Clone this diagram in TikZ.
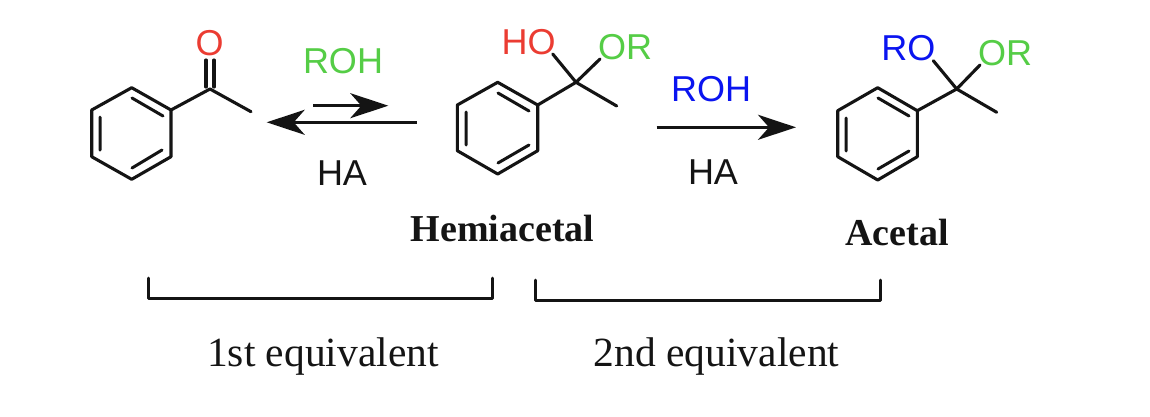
\documentclass[tikz,border=0pt]{standalone}
\usepackage{fontspec}
\setmainfont{Liberation Serif}
\newfontfamily\chemfont{Liberation Sans}
\usetikzlibrary{arrows.meta}
\definecolor{chemred}{RGB}{235,60,50}
\definecolor{chemgreen}{RGB}{85,205,70}
\definecolor{chemblue}{RGB}{10,20,240}
\definecolor{ink}{RGB}{20,20,20}
\tikzset{
  bond/.style={draw=ink,line width=3.1pt,line cap=round,line join=round},
  innerbond/.style={draw=ink,line width=3pt,line cap=round},
  rxn/.style={draw=ink,line width=3pt,-{Stealth[length=38pt,width=25pt,inset=11pt]}},
  bracket/.style={draw=ink,line width=3pt,line cap=round,line join=round},
  chem/.style={font=\chemfont\fontsize{36}{36}\selectfont,inner sep=0pt,text=ink},
  captext/.style={font=\fontsize{41.5}{41.5}\selectfont,inner sep=0pt,text=ink,anchor=base},
  capbold/.style={font=\fontsize{38}{38}\selectfont\bfseries,inner sep=0pt,text=ink,anchor=base}
}
\begin{document}
\begin{tikzpicture}[x=1pt,y=-1pt]
\useasboundingbox (0,0) rectangle (1150,416);
\fill[white] (0,0) rectangle (1150,416);

% Ketone
\coordinate (a1) at (131.7,87.7);
\coordinate (a2) at (171,110);
\coordinate (a3) at (171,156.7);
\coordinate (a4) at (131.7,179.3);
\coordinate (a5) at (91.7,156.7);
\coordinate (a6) at (91.7,110);
\coordinate (ac) at (210,89);
\coordinate (ame) at (251,111.7);
\coordinate (ao1) at (206,60);
\coordinate (ao2) at (214,60);
\coordinate (ac1) at (206,87);
\coordinate (ac2) at (214,87);
\draw[bond] (a1)--(a2)--(a3)--(a4)--(a5)--(a6)--cycle;
\draw[bond] (a2)--(ac)--(ame);
\draw[bond] (ao1)--(ac1) (ao2)--(ac2);
\draw[innerbond] (132,98)--(163,116) (162,150)--(132,168) (100,150)--(100,117);
\node[chem,text=chemred] (ao) at (209.5,43) {O};

% Hemiacetal
\coordinate (b1) at (497.7,82.3);
\coordinate (b2) at (537.7,105);
\coordinate (b3) at (537.7,150.7);
\coordinate (b4) at (497.7,174);
\coordinate (b5) at (457.3,150.7);
\coordinate (b6) at (457.3,105);
\coordinate (bc) at (576,82.3);
\coordinate (bme) at (616.7,106);
\coordinate (bho) at (552.7,54);
\coordinate (bor) at (600,59);
\draw[bond] (b1)--(b2)--(b3)--(b4)--(b5)--(b6)--cycle;
\draw[bond] (b2)--(bc)--(bme);
\draw[bond] (bc)--(bho) (bc)--(bor);
\draw[innerbond] (498,93)--(529,111) (529,145)--(498,163) (466,145)--(466,112);
\node[chem,text=chemred] (tho) at (528.7,41.7) {HO};
\node[chem,text=chemgreen] (tor) at (625,46.7) {OR};

% Acetal
\coordinate (c1) at (877.7,87.7);
\coordinate (c2) at (917.3,110.7);
\coordinate (c3) at (917.3,156.7);
\coordinate (c4) at (877.7,180);
\coordinate (c5) at (837.7,156.7);
\coordinate (c6) at (837.7,110.7);
\coordinate (cc) at (956.7,89);
\coordinate (cme) at (996.7,112.3);
\coordinate (cro) at (933.3,60.7);
\coordinate (cor) at (980,65);
\draw[bond] (c1)--(c2)--(c3)--(c4)--(c5)--(c6)--cycle;
\draw[bond] (c2)--(cc)--(cme);
\draw[bond] (cc)--(cro) (cc)--(cor);
\draw[innerbond] (878,98)--(909,116) (909,151)--(878,169) (846,151)--(846,118);
\node[chem,text=chemblue] (tro) at (908.3,48.3) {RO};
\node[chem,text=chemgreen] (tor2) at (1005,53.3) {OR};

% Arrows
\coordinate (r1s) at (313,105.7);
\coordinate (r1e) at (388.3,105.7);
\coordinate (r2s) at (416.7,122.3);
\coordinate (r2e) at (266.7,122.3);
\coordinate (r3s) at (656.7,127.3);
\coordinate (r3e) at (796,127.3);
\draw[rxn] (r1s)--(r1e);
\draw[rxn] (r2s)--(r2e);
\draw[rxn] (r3s)--(r3e);
\node[chem,text=chemgreen] (rohg) at (343,61) {ROH};
\node[chem] (ha1) at (342,173) {HA};
\node[chem,text=chemblue] (rohb) at (711,89) {ROH};
\node[chem] (ha2) at (713,172) {HA};

% Captions
\node[capbold] (hemi) at (502.5,241.7) {Hemiacetal};
\node[capbold] (acet) at (897,245) {Acetal};
\coordinate (k1) at (148,278);
\coordinate (k2) at (148,298);
\coordinate (k3) at (492,298);
\coordinate (k4) at (492,278);
\coordinate (m1) at (535,280);
\coordinate (m2) at (535,300);
\coordinate (m3) at (880,300);
\coordinate (m4) at (880,280);
\draw[bracket] (k1)--(k2)--(k3)--(k4);
\draw[bracket] (m1)--(m2)--(m3)--(m4);
\node[captext] (eq1) at (323,366) {1st equivalent};
\node[captext] (eq2) at (716.5,366.5) {2nd equivalent};
\end{tikzpicture}
\end{document}
